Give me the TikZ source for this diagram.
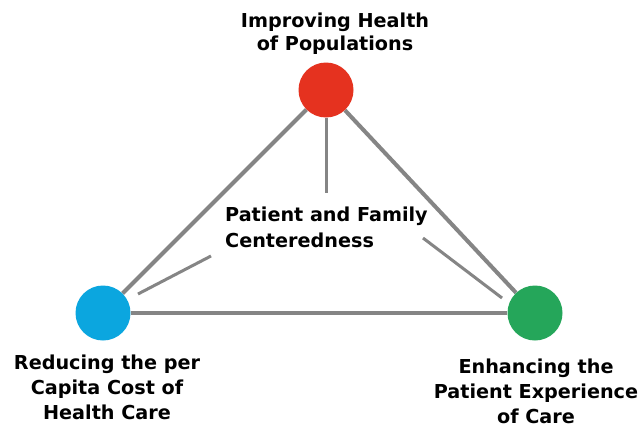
\documentclass[tikz,border=0pt]{standalone}
\usepackage{fontspec}
\setmainfont{DejaVu Sans}
\definecolor{cred}{HTML}{E5321F}
\definecolor{cblue}{HTML}{0BA6DF}
\definecolor{cgreen}{HTML}{25A65A}
\definecolor{edgegray}{HTML}{858585}
\begin{document}
\begin{tikzpicture}[x=1pt,y=-1pt,
  dot/.style={circle,minimum size=55pt,inner sep=0pt},
  edge/.style={draw=edgegray,line width=4pt},
  spoke/.style={draw=edgegray,line width=3pt},
  lbl/.style={font=\bfseries\fontsize{19.2}{24}\selectfont,align=center,inner sep=0pt}]
\useasboundingbox (0,0) rectangle (644,428);
\fill[white] (0,0) rectangle (644,428);
\node[dot] (R) at (326,90) {};
\node[dot] (B) at (103,313) {};
\node[dot] (G) at (535,313) {};
\draw[edge] (B) -- (R);
\draw[edge] (R) -- (G);
\draw[edge] (B) -- (G);
\fill[cred] (R) circle (27.5pt);
\fill[cblue] (B) circle (27.5pt);
\fill[cgreen] (G) circle (27.5pt);
\coordinate (s1) at (326,193);
\coordinate (s2a) at (138,294);
\coordinate (s2b) at (211,256);
\coordinate (s3a) at (423,238);
\coordinate (s3b) at (502,298);
\draw[spoke] (R.south) -- (s1);
\draw[spoke] (s2a) -- (s2b);
\draw[spoke] (s3a) -- (s3b);
\node[lbl,anchor=base,font=\bfseries\fontsize{19.2}{23}\selectfont] (tR) at (335,51) {Improving Health\\of Populations};
\node[lbl,anchor=base,font=\bfseries\fontsize{19.2}{25}\selectfont] (tB) at (107,419) {Reducing the per\\Capita Cost of\\Health Care};
\node[lbl,anchor=base,font=\bfseries\fontsize{19.2}{25}\selectfont] (tG) at (536,423) {Enhancing the\\Patient Experience\\of Care};
\node[lbl,align=left,anchor=base west,font=\bfseries\fontsize{19.2}{26}\selectfont] (tC) at (225,247) {Patient and Family\\Centeredness};
\end{tikzpicture}
\end{document}
